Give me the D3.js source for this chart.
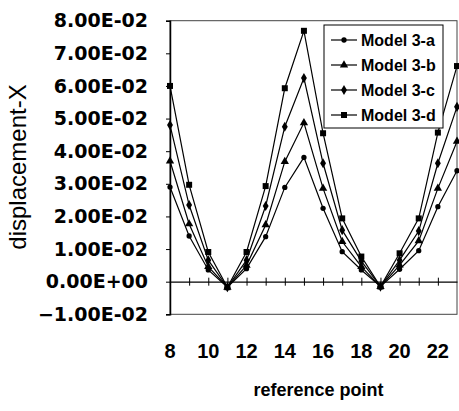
<!DOCTYPE html>
<html>
<head>
<meta charset="utf-8">
<script src="https://d3js.org/d3.v7.min.js"></script>
<style>
  body { margin: 0; background: #fff; }
</style>
</head>
<body>
<div id="chart"></div>
<script>
// Data
const points = [8, 9, 10, 11, 12, 13, 14, 15, 16, 17, 18, 19, 20, 21, 22, 23]
const model3a = [0.029, 0.014, 0.0036, -0.0017, 0.004, 0.0138, 0.0289, 0.0381, 0.0225, 0.0092, 0.0036, -0.0015, 0.0038, 0.0095, 0.023, 0.034]
const model3b = [0.037, 0.0177, 0.0046, -0.0017, 0.005, 0.0174, 0.0368, 0.0487, 0.0286, 0.0123, 0.0046, -0.0015, 0.0051, 0.0125, 0.0286, 0.043]
const model3c = [0.048, 0.0235, 0.0066, -0.0017, 0.0066, 0.0232, 0.0475, 0.0624, 0.0363, 0.0158, 0.0063, -0.0015, 0.0066, 0.0155, 0.0363, 0.0536]
const model3d = [0.060, 0.0297, 0.0091, -0.0017, 0.0091, 0.0293, 0.0593, 0.0769, 0.0455, 0.0194, 0.0077, -0.0015, 0.0087, 0.0194, 0.0457, 0.0661]
const seriesNames = ["Model 3-a", "Model 3-b", "Model 3-c", "Model 3-d"]
const xTickLabels = [8, 10, 12, 14, 16, 18, 20, 22]
const yTickValues = [-0.01, 0, 0.01, 0.02, 0.03, 0.04, 0.05, 0.06, 0.07, 0.08]

const series = [model3a, model3b, model3c, model3d].map((vals, i) => ({
  name: seriesNames[i],
  values: vals.map((v, j) => ({ x: points[j], y: v }))
}))

// Dimensions
const width = 459, height = 411
const plot = { left: 170, right: 457, top: 20.7, bottom: 314.3 }

const svg = d3.select("#chart")
  .append("svg")
  .attr("width", width)
  .attr("height", height)

// Scales
const xScale = d3.scaleLinear()
  .domain([8, 23])
  .range([plot.left, plot.right])

const yScale = d3.scaleLinear()
  .domain([-0.01, 0.08])
  .range([plot.bottom, plot.top])

// plot frame
svg.append("rect")
  .attr("x", plot.left)
  .attr("y", plot.top)
  .attr("width", plot.right - plot.left)
  .attr("height", plot.bottom - plot.top)
  .attr("fill", "none")
  .attr("stroke", "#444")
  .attr("stroke-width", 1)

// y axis
const yAxis = d3.axisLeft(yScale)
  .tickValues(yTickValues)
  .tickSize(4)
  .tickFormat(d => d === 0 ? "0.00E+00" : d3.format(".2e")(d).replace(/e-(\d)$/, "E-0$1").replace("e", "E"))

const yG = svg.append("g")
  .attr("transform", `translate(${plot.left},0)`)
  .call(yAxis)
yG.select(".domain").attr("stroke", "#000").attr("stroke-width", 1.5)
yG.selectAll(".tick line").attr("stroke", "#000")
yG.selectAll("text")
  .attr("x", -22)
  .attr("font-family", "DejaVu Sans")
  .attr("font-weight", "bold")
  .attr("font-size", 19)
  .attr("fill", "#000")

// x axis through zero
const xAxisLine = d3.axisBottom(xScale)
  .tickValues(d3.range(9, 23))
  .tickSize(0)
  .tickFormat("")
const xG = svg.append("g")
  .attr("transform", `translate(0,${yScale(0)})`)
  .call(xAxisLine)
xG.select(".domain").attr("stroke", "#000").attr("stroke-width", 1.2)
xG.selectAll(".tick line")
  .attr("y1", -4)
  .attr("y2", 4)
  .attr("stroke", "#000")

// x tick labels below the plot
svg.append("g")
  .selectAll("text")
  .data(xTickLabels)
  .join("text")
  .attr("x", d => xScale(d))
  .attr("y", 358)
  .attr("text-anchor", "middle")
  .attr("font-family", "Liberation Sans")
  .attr("font-weight", "bold")
  .attr("font-size", 20)
  .text(d => d)

// axis titles
svg.append("text")
  .attr("x", (plot.left + plot.right) / 2 + 5)
  .attr("y", 396)
  .attr("text-anchor", "middle")
  .attr("font-family", "Liberation Sans")
  .attr("font-weight", "bold")
  .attr("font-size", 18)
  .text("reference point")

svg.append("text")
  .attr("transform", "translate(26,167) rotate(-90)")
  .attr("text-anchor", "middle")
  .attr("font-family", "Liberation Sans")
  .attr("font-size", 24)
  .text("displacement-X")

// markers
const symbols = [d3.symbolCircle, d3.symbolTriangle, d3.symbolDiamond, d3.symbolSquare]
const symbolSizes = [22, 30, 30, 36]

const line = d3.line()
  .x(d => xScale(d.x))
  .y(d => yScale(d.y))

const sg = svg.append("g")
  .selectAll("g")
  .data(series)
  .join("g")

sg.append("path")
  .attr("d", d => line(d.values))
  .attr("fill", "none")
  .attr("stroke", "#000")
  .attr("stroke-width", 1.2)

sg.each(function(s, i) {
  d3.select(this).selectAll("path.pt")
    .data(s.values)
    .join("path")
    .attr("class", "pt")
    .attr("transform", d => `translate(${xScale(d.x)},${yScale(d.y)})`)
    .attr("d", d3.symbol(symbols[i], symbolSizes[i]))
    .attr("fill", "#000")
})

// legend
const legend = svg.append("g")
legend.append("rect")
  .attr("x", 324)
  .attr("y", 25)
  .attr("width", 119)
  .attr("height", 103)
  .attr("fill", "#fff")
  .attr("stroke", "#000")
  .attr("stroke-width", 1)

const li = legend.selectAll("g.item")
  .data(series)
  .join("g")
  .attr("class", "item")
  .attr("transform", (d, i) => `translate(0,${40 + i * 25})`)

li.append("line")
  .attr("x1", 331)
  .attr("x2", 357)
  .attr("stroke", "#000")
  .attr("stroke-width", 1.2)
li.append("path")
  .attr("transform", "translate(344,0)")
  .attr("d", (d, i) => d3.symbol(symbols[i], symbolSizes[i])())
  .attr("fill", "#000")
li.append("text")
  .attr("x", 361)
  .attr("dy", "0.36em")
  .attr("font-family", "Liberation Sans")
  .attr("font-weight", "bold")
  .attr("font-size", 16)
  .text(d => d.name)
</script>
</body>
</html>
